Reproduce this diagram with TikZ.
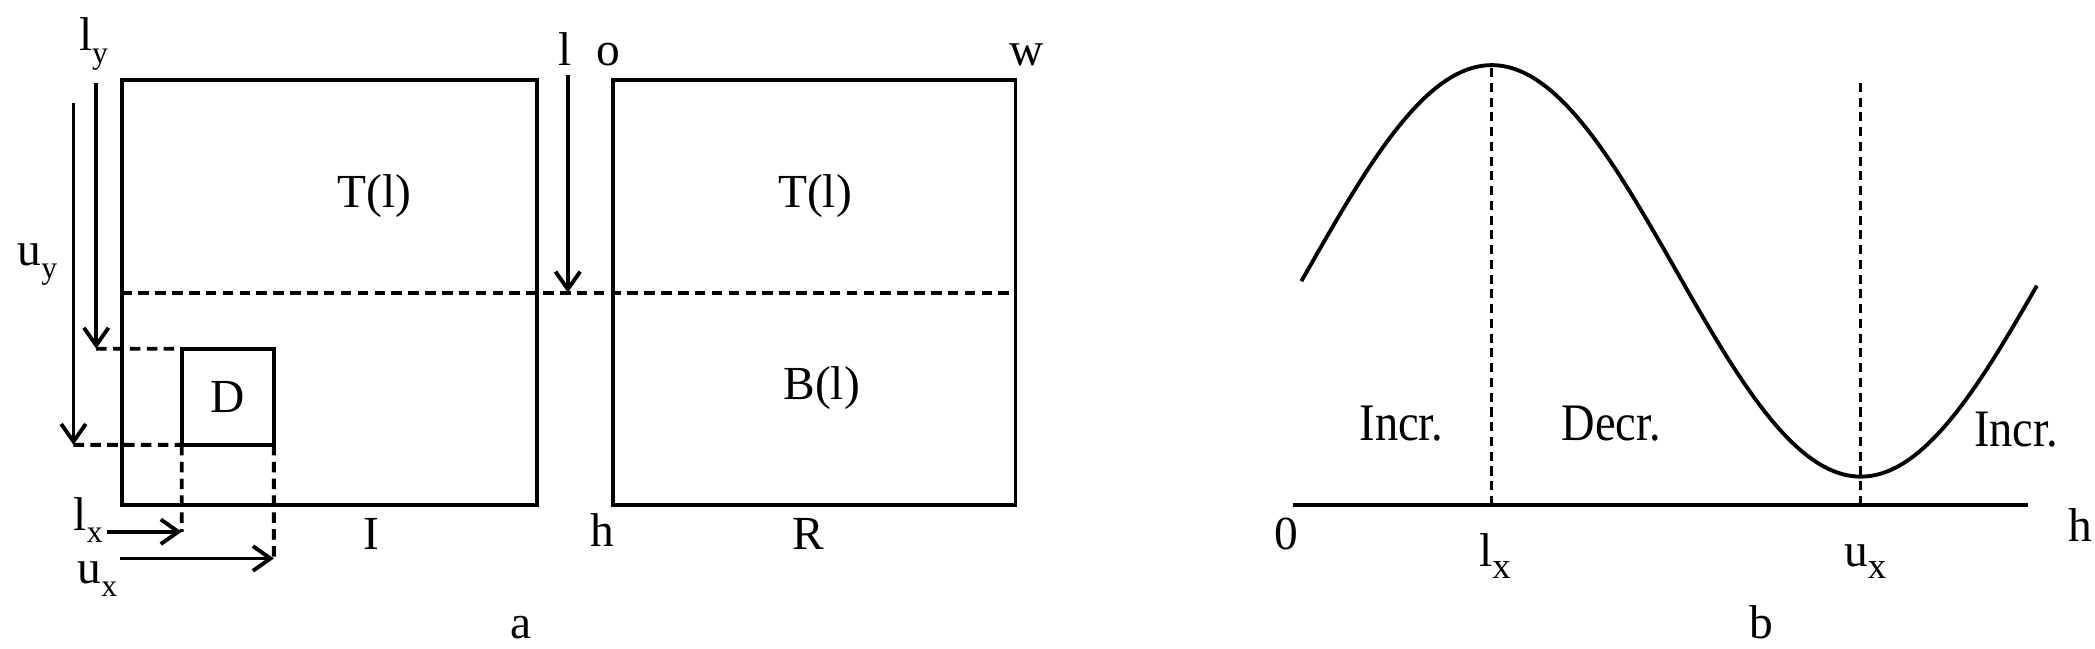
\documentclass[tikz,border=0pt]{standalone}
\usepackage{fontspec}
\setmainfont{Liberation Serif}
\newfontfamily\narrowfont[FakeStretch=0.88]{Liberation Serif}
\usepackage{tikz}
\usetikzlibrary{arrows.meta, positioning, calc}

\newcommand{\lowsub}[2][9]{\raisebox{-3.5pt}{\fontsize{#1}{#1}\selectfont #2}}

\tikzset{
  frame/.style={line width=1.1pt},
  guide/.style={line width=1.1pt, dash pattern=on 3pt off 1.8pt},
  thinguide/.style={line width=0.8pt, dash pattern=on 2.6pt off 1.6pt},
  arr/.style={line width=1.1pt, -{Straight Barb[length=5pt,width=7pt,line width=1.1pt]}},
  lbl/.style={font=\fontsize{13.5}{16}\selectfont, inner sep=0pt, anchor=base},
  trend/.style={font=\narrowfont\fontsize{15}{18}\selectfont, inner sep=0pt, anchor=base},
}

\begin{document}
\begin{tikzpicture}[x=0.01336cm, y=0.01336cm]
  \useasboundingbox (0,0) rectangle (1568,485);

  % panel a: image I and region R
  \coordinate (Isw) at (91,107);
  \coordinate (Ine) at (402,425);
  \coordinate (Rsw) at (459,107);
  \coordinate (Rne) at (760,425);
  \draw[frame] (Isw) rectangle (Ine);
  \draw[frame] (Rsw) rectangle (Rne);
  \coordinate (cutL) at (91,266);
  \coordinate (cutR) at (760,266);
  \draw[guide] (cutL) -- (cutR);

  \node[draw, frame, outer sep=0pt, minimum width=0.922cm, minimum height=0.962cm,
        font=\fontsize{13.5}{16}\selectfont] (D) at (170.5,188) {D};

  \coordinate (lyS) at (72,423);
  \coordinate (lyE) at (72,224);
  \coordinate (uyS) at (55,408);
  \coordinate (uyE) at (55,152);
  \coordinate (lxS) at (80,87);
  \coordinate (lxE) at (136,87);
  \coordinate (uxS) at (90,67);
  \coordinate (uxE) at (205,67);
  \coordinate (lS) at (425,429);
  \coordinate (lE) at (425,266);

  \draw[arr] (lyS) -- (lyE);
  \draw[arr] (uyS) -- (uyE);
  \draw[arr] (lxS) -- (lxE);
  \draw[arr] (uxS) -- (uxE);
  \draw[arr] (lS) -- (lE);
  \draw[guide] (lyE) -- (D.north west);
  \draw[guide] (uyE) -- (D.south west);
  \draw[guide] (D.south west) -- (lxE);
  \draw[guide] (D.south east) -- (uxE);

  \node[lbl] (ly) at (70,447) {l\lowsub{y}};
  \node[lbl] (uy) at (28,286) {u\lowsub{y}};
  \node[lbl] (lx) at (66,88) {l\lowsub{x}};
  \node[lbl] (ux) at (73,48) {u\lowsub{x}};
  \node[lbl] (l) at (423,436) {l};
  \node[lbl] (TI) at (280,330) {T(l)};
  \node[lbl] (I) at (278,74) {I};
  \node[lbl] (o) at (455,436) {o};
  \node[lbl] (w) at (768,436) {w};
  \node[lbl] (TR) at (610,330) {T(l)};
  \node[lbl] (BR) at (615,186) {B(l)};
  \node[lbl] (h) at (451,76) {h};
  \node[lbl] (R) at (605,74) {R};
  \node[lbl] (a) at (390,7) {a};

  % panel b: the curve over h
  \coordinate (O) at (968,107);
  \coordinate (H) at (1518,107);
  \coordinate (lxB) at (1116.5,107);
  \coordinate (lxT) at (1116.5,436);
  \coordinate (uxB) at (1392.7,107);
  \coordinate (uxT) at (1392.7,426);
  \draw[frame] (O) -- (H);
  \draw[thinguide] (lxB) -- (lxT);
  \draw[thinguide] (uxB) -- (uxT);
  \draw[frame] plot[domain=974:1524.5, samples=120, smooth] (\x, {282.25+154*cos((\x-1116.5)/276.2*180)});

  \node[lbl] (zero) at (963,74) {0};
  \node[lbl] (hB) at (1557,80) {h};
  \node[lbl] (lxL) at (1119,61) {l\lowsub[10.5]{x}};
  \node[lbl] (uxL) at (1396,61) {u\lowsub[10.5]{x}};
  \node[trend] (inc1) at (1049,155) {Incr.};
  \node[trend] (dec) at (1206,155) {Decr.};
  \node[trend] (inc2) at (1509,151) {Incr.};
  \node[lbl] (b) at (1318,7) {b};
\end{tikzpicture}
\end{document}
